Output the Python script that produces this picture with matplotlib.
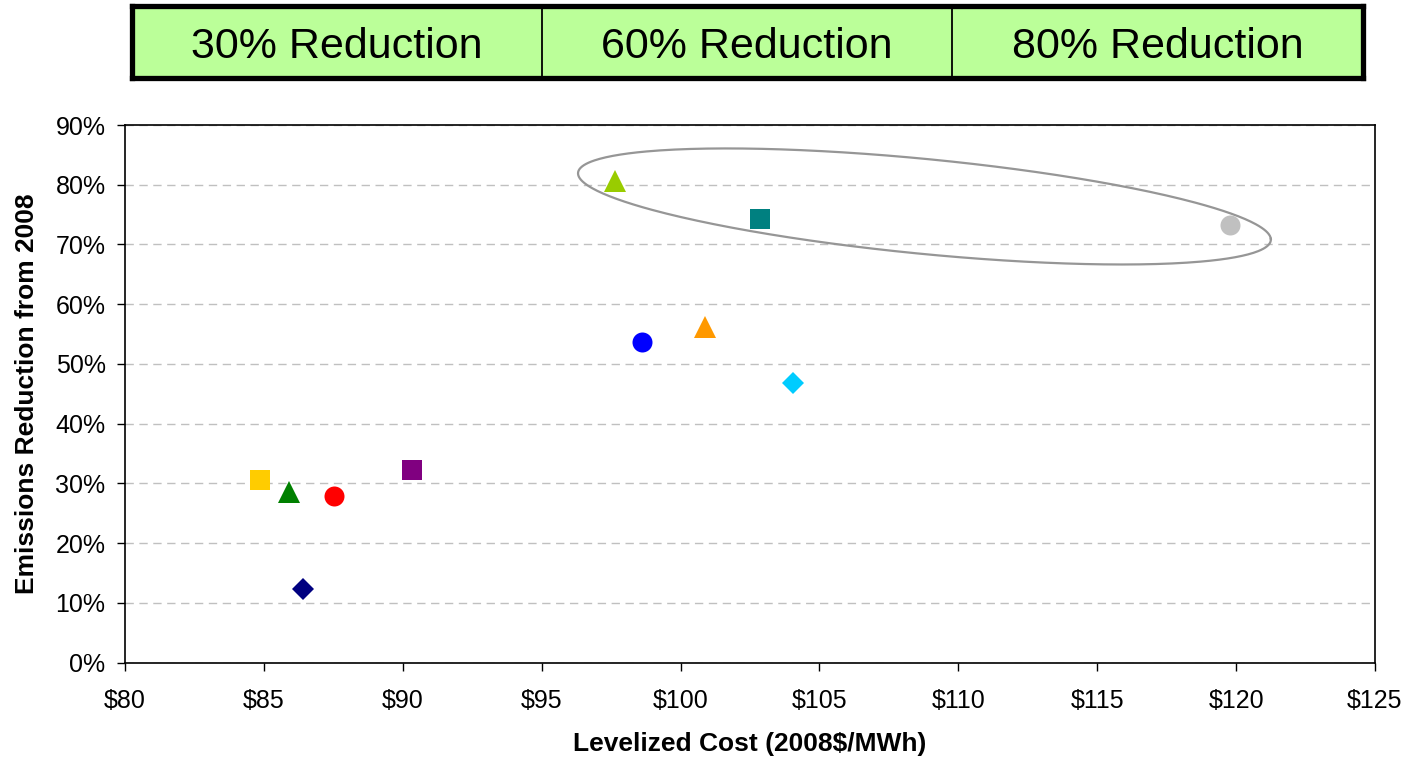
import numpy as np
import matplotlib
matplotlib.use("Agg")
import matplotlib.pyplot as plt
from matplotlib.ticker import FuncFormatter

plt.rcParams['font.family'] = ['Liberation Sans', 'DejaVu Sans']

# ---- data ----
cost = [84.86, 85.91, 87.53, 86.41, 90.34, 97.64, 102.87, 98.62, 100.88, 104.06, 119.79]
reduction = [30.5, 28.6, 27.8, 12.3, 32.2, 80.6, 74.3, 53.7, 56.2, 46.75, 73.3]
colors = ['#FFCC00', '#008000', '#FF0000', '#000080', '#800080', '#99CC00',
          '#008080', '#0000FF', '#FF9900', '#00CCFF', '#C0C0C0']
markers = ['s', '^', 'o', 'D', 's', '^', 's', 'o', '^', 'D', 'o']
header_labels = ['30% Reduction', '60% Reduction', '80% Reduction']
x_ticks = [80, 85, 90, 95, 100, 105, 110, 115, 120, 125]
y_ticks = [0, 10, 20, 30, 40, 50, 60, 70, 80, 90]

# ellipse highlighting the 80% cases (data units)
ell_center = (108.78, 76.36)
ell_u = (12.47, -5.44)
ell_v = (-0.162, 8.05)

W, H = 1407, 763
fig = plt.figure(figsize=(W / 100, H / 100), dpi=100)

# ---- main axes ----
ax = fig.add_axes([125 / W, 1 - 662.5 / H, 1250 / W, 537.5 / H])
msize = {'s': 14.4, 'o': 14.4, '^': 15.6, 'D': 11.2}
for x, y, c, m in zip(cost, reduction, colors, markers):
    ax.plot([x], [y], linestyle='none', marker=m, color=c, markersize=msize[m],
            markeredgewidth=0, zorder=4)

t = np.linspace(0, 2 * np.pi, 400)
ex = ell_center[0] + np.cos(t) * ell_u[0] + np.sin(t) * ell_v[0]
ey = ell_center[1] + np.cos(t) * ell_u[1] + np.sin(t) * ell_v[1]
ax.plot(ex, ey, color='#969696', linewidth=1.6, zorder=3)

ax.set_xlim(80, 125)
ax.set_ylim(0, 90)
ax.set_xticks(x_ticks)
ax.set_yticks(y_ticks)
ax.xaxis.set_major_formatter(FuncFormatter(lambda v, p: f'${v:.0f}'))
ax.yaxis.set_major_formatter(FuncFormatter(lambda v, p: f'{v:.0f}%'))
ax.tick_params(axis='both', labelsize=18, direction='out', length=6, width=1, color='black')
ax.tick_params(axis='x', pad=13)
ax.tick_params(axis='y', pad=8)
ax.yaxis.grid(True, color='#C0C0C0', linestyle=(0, (6, 4)), linewidth=1)
ax.set_axisbelow(True)
for s in ax.spines.values():
    s.set_color('black')
    s.set_linewidth(1.2)

ax.set_xlabel('Levelized Cost (2008$/MWh)', fontsize=19, fontweight='bold', labelpad=14)
ax.set_ylabel('Emissions Reduction from 2008', fontsize=19, fontweight='bold', labelpad=12)

# ---- header boxes ----
hax = fig.add_axes([131.5 / W, 1 - 78 / H, 1231 / W, 72.5 / H])
hax.set_xlim(0, 3)
hax.set_ylim(0, 1)
hax.set_facecolor('#BBFF99')
hax.set_xticks([])
hax.set_yticks([])
for s in hax.spines.values():
    s.set_linewidth(3.8)
    s.set_color('black')
for i, lab in enumerate(header_labels):
    hax.text(i + 0.5, 0.43, lab, ha='center', va='center', fontsize=31)
    if i > 0:
        hax.axvline(i, color='black', linewidth=1.3)

fig.savefig('out.png', dpi=100)
